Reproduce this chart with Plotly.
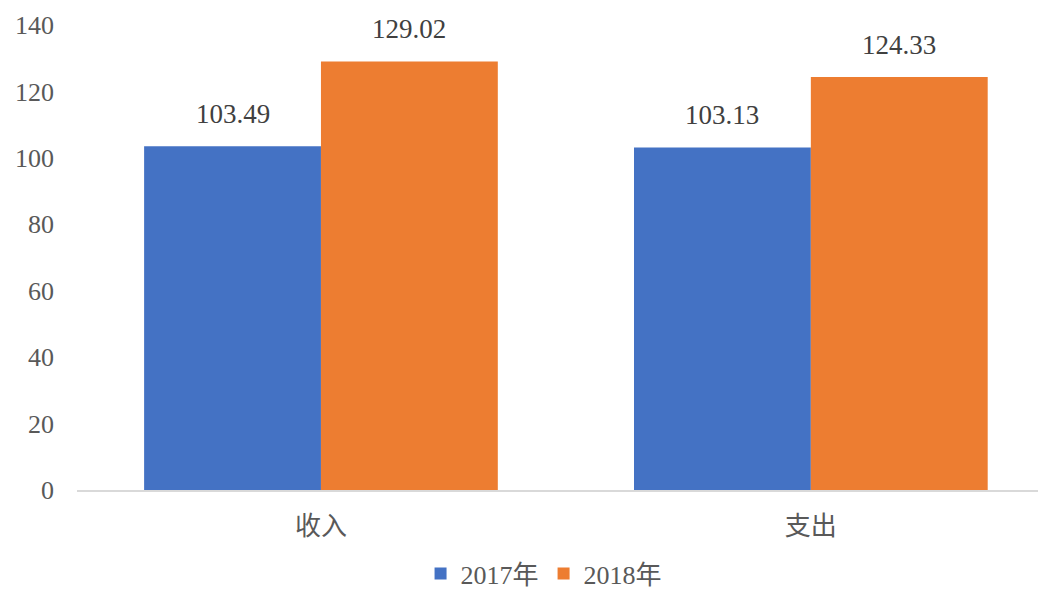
import plotly.graph_objects as go

categories = ["收入", "支出"]
series_names = ["2017年", "2018年"]
values_2017 = [103.49, 103.13]
values_2018 = [129.02, 124.33]
y_ticks = [0, 20, 40, 60, 80, 100, 120, 140]

colors = ["#4472C4", "#ED7D31"]
FONT = "Liberation Serif, Noto Sans CJK SC, serif"

# page body has an 8px default margin
W, H = 1038, 589
ml, mr, mt, mb = 69, 0, 17, 107
bargap = 0.278
plot_w = W - ml - mr
plot_h = H - mt - mb
x_range = [-0.498, 1.48]
px_per_cat = plot_w / (x_range[1] - x_range[0])
bar_w_px = px_per_cat * (1 - bargap) / 2

fig = go.Figure()
annotations = []
for i, (name, vals) in enumerate(zip(series_names, [values_2017, values_2018])):
    fig.add_trace(go.Bar(
        x=categories, y=vals, name=name, marker_color=colors[i],
        marker_line_width=0,
    ))
    shift = (i - 0.5) * bar_w_px
    for c, v in zip(categories, vals):
        annotations.append(dict(
            x=c, y=v, xref="x", yref="y", text=f"{v:.2f}", showarrow=False,
            xshift=shift, yshift=32, font=dict(family=FONT, size=27, color="#404040"),
        ))

fig.update_layout(
    width=W, height=H,
    margin=dict(l=ml, r=mr, t=mt, b=mb, autoexpand=False),
    barmode="group", bargap=bargap, bargroupgap=0,
    plot_bgcolor="white", paper_bgcolor="white",
    font=dict(family=FONT, size=26, color="#595959"),
    annotations=annotations,
    legend=dict(orientation="h", x=0.482, xanchor="center", y=-mb / plot_h,
                yanchor="bottom",
                font=dict(family=FONT, size=26, color="#595959"),
                traceorder="normal"),
    showlegend=True,
)
fig.update_yaxes(range=[0, 140], tickvals=y_ticks, showgrid=False, zeroline=False,
                 showline=False, ticks="", ticklabelstandoff=22, automargin=False,
                 tickfont=dict(size=26, color="#595959"))
fig.update_xaxes(range=x_range, showline=True, linecolor="#D9D9D9", linewidth=1.5, ticks="",
                 ticklabelstandoff=12, automargin=False,
                 tickfont=dict(size=26, color="#595959"))

fig.write_html("out.html")
